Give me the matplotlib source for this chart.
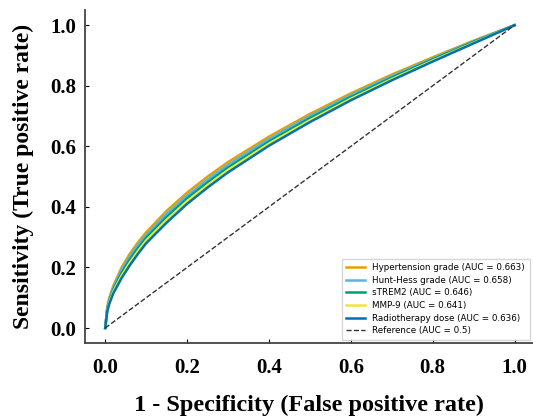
import numpy as np
import matplotlib
matplotlib.use('Agg')
from matplotlib import pyplot as plt

# ROC points
fpr = [0, 0.005, 0.01, 0.02, 0.04, 0.06, 0.08, 0.1, 0.15, 0.2, 0.25, 0.3, 0.4, 0.5, 0.6, 0.7, 0.8, 0.9, 1.0]
tpr_hypertension = [0, 0.07, 0.10, 0.14, 0.20, 0.245, 0.283, 0.316, 0.387, 0.447, 0.50, 0.548, 0.632, 0.707, 0.775, 0.837, 0.894, 0.949, 1.0]
tpr_hunthess = [0, 0.066, 0.095, 0.134, 0.192, 0.236, 0.274, 0.307, 0.377, 0.437, 0.490, 0.539, 0.624, 0.700, 0.769, 0.832, 0.890, 0.947, 1.0]
tpr_strem2 = [0, 0.062, 0.09, 0.127, 0.182, 0.226, 0.264, 0.298, 0.367, 0.428, 0.481, 0.530, 0.616, 0.693, 0.763, 0.827, 0.887, 0.945, 1.0]
tpr_mmp9 = [0, 0.058, 0.085, 0.121, 0.173, 0.216, 0.254, 0.289, 0.357, 0.419, 0.472, 0.522, 0.609, 0.686, 0.757, 0.822, 0.883, 0.942, 1.0]
tpr_radio = [0, 0.055, 0.08, 0.115, 0.165, 0.207, 0.245, 0.28, 0.348, 0.41, 0.464, 0.514, 0.602, 0.68, 0.752, 0.818, 0.88, 0.94, 1.0]

labels = ["Hypertension grade (AUC = 0.663)", "Hunt-Hess grade (AUC = 0.658)",
          "sTREM2 (AUC = 0.646)", "MMP-9 (AUC = 0.641)", "Radiotherapy dose (AUC = 0.636)"]
colors = ["#E69F00", "#56B4E9", "#009E73", "#F0E442", "#0072B2"]
curves = [tpr_hypertension, tpr_hunthess, tpr_strem2, tpr_mmp9, tpr_radio]

serif = dict(fontfamily="Liberation Serif", fontweight="bold")

fig = plt.figure(figsize=(5.33, 4.19), dpi=100)
ax = fig.add_axes([0.159, 0.181, 0.841, 0.795])

for tpr, lab, col in zip(curves, labels, colors):
    ax.plot(fpr, tpr, color=col, lw=1.8, label=lab)
ax.plot([0, 1], [0, 1], color="#333333", lw=1, ls="--", label="Reference (AUC = 0.5)")

ax.set_xlim(-0.05, 1.045)
ax.set_ylim(-0.05, 1.05)
ax.spines['top'].set_visible(False)
ax.spines['right'].set_visible(False)
for s in ['left', 'bottom']:
    ax.spines[s].set_linewidth(1.3)
    ax.spines[s].set_color("#444444")

ticks = [0.0, 0.2, 0.4, 0.6, 0.8, 1.0]
ax.set_xticks(ticks)
ax.set_yticks(ticks)
ax.set_xticklabels([f"{t:.1f}" for t in ticks], fontsize=15, **serif)
ax.set_yticklabels([f"{t:.1f}" for t in ticks], fontsize=15, **serif)
ax.tick_params(axis='both', direction='in', length=3, width=0.8)
ax.tick_params(axis='x', pad=11)
ax.tick_params(axis='y', pad=6)

ax.set_xlabel("1 - Specificity (False positive rate)", fontsize=17.5, labelpad=12, **serif)
ax.set_ylabel("Sensitivity (True positive rate)", fontsize=17, labelpad=12, **serif)

ax.legend(loc="lower right", fontsize=6.3, frameon=True, edgecolor="#cccccc",
          fancybox=False, borderpad=0.5, handlelength=2.2, labelspacing=0.42,
          borderaxespad=0.4)

fig.savefig("out.png", dpi=100)
